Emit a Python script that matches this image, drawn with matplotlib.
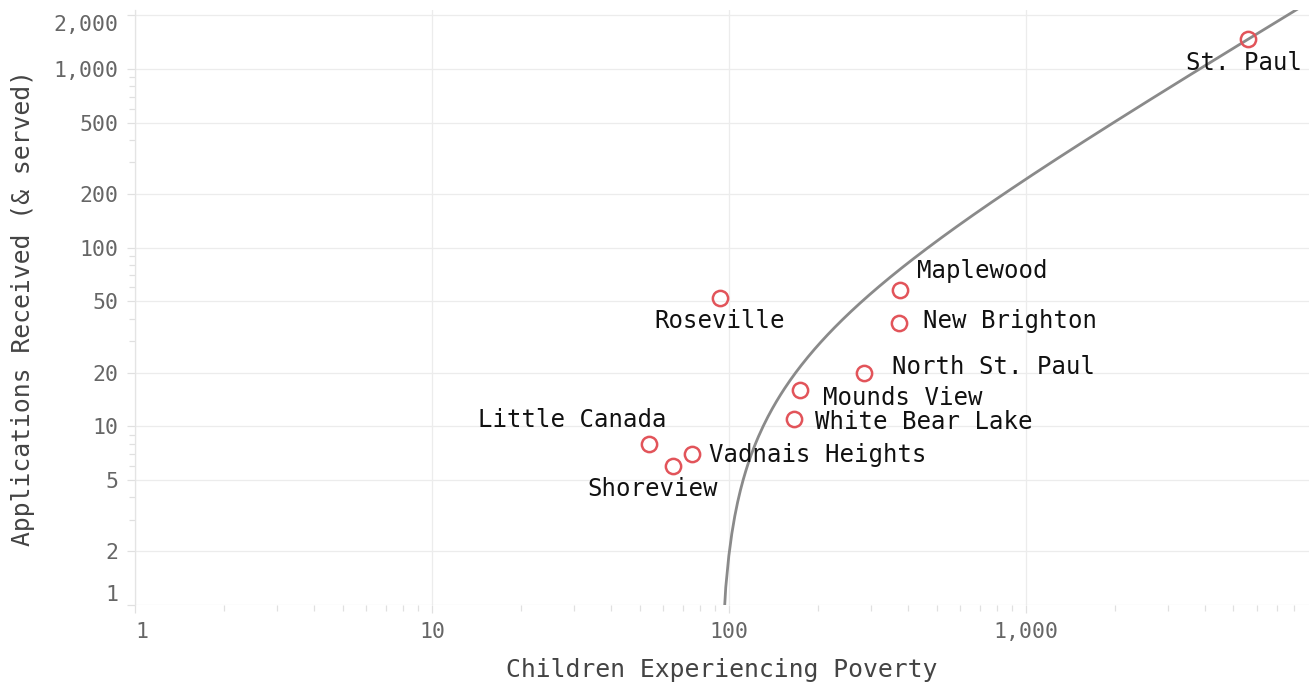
import matplotlib.pyplot as plt
from matplotlib.ticker import FixedLocator, FuncFormatter, LogLocator, NullFormatter
import numpy as np

# data
cities = ["St. Paul", "Maplewood", "New Brighton", "Roseville", "North St. Paul",
          "Mounds View", "White Bear Lake", "Little Canada", "Vadnais Heights", "Shoreview"]
poverty = [5590, 377, 374, 93, 285, 173, 166, 54, 75, 65]
applications = [1470, 58, 38, 52, 20, 16, 11, 8, 7, 6]

x_ticks = [1, 10, 100, 1000]
y_ticks = [1, 2, 5, 10, 20, 50, 100, 200, 500, 1000, 2000]

# label layout: (dx px, dy px, ha)
label_pos = {
    "St. Paul": (-4, -24, "center"),
    "Maplewood": (17, 19, "left"),
    "New Brighton": (24, 2, "left"),
    "Roseville": (0, -23, "center"),
    "North St. Paul": (28, 6, "left"),
    "Mounds View": (23, -8, "left"),
    "White Bear Lake": (21, -3, "left"),
    "Little Canada": (17, 24, "right"),
    "Vadnais Heights": (17, -1, "left"),
    "Shoreview": (-21, -23, "center"),
}

FONT = "DejaVu Sans Mono"
px = 0.72  # pixel -> points at dpi 100

fig = plt.figure(figsize=(13.09, 6.83), dpi=100)
ax = fig.add_axes([135/1309, 1 - 605/683, 1 - 135/1309, 595/683])
ax.set_xscale("log")
ax.set_yscale("log")
ax.set_xlim(1, 8980)
ax.set_ylim(1, 2140)

# linear trend fitted on raw values
a, b = np.polyfit(poverty, applications, 1)
xs = np.linspace(-b / a + 0.01, 9500, 4000)
ys = a * xs + b
ax.plot(xs, ys, color="#8a8a8a", linewidth=2.0, zorder=2)

ax.plot(poverty, applications, linestyle="none", marker="o", markersize=11,
        markerfacecolor="none", markeredgecolor="#e2545a", markeredgewidth=1.8, zorder=3)

for name, xv, yv in zip(cities, poverty, applications):
    dx, dy, ha = label_pos[name]
    ax.annotate(name, (xv, yv), xytext=(dx * px, dy * px), textcoords="offset points",
                ha=ha, va="center", fontsize=17.3, family=FONT, color="#111111", zorder=4)

ax.xaxis.set_major_locator(FixedLocator(x_ticks))
ax.yaxis.set_major_locator(FixedLocator(y_ticks))
ax.xaxis.set_minor_locator(LogLocator(base=10, subs=np.arange(2, 10)))
ax.yaxis.set_minor_locator(LogLocator(base=10, subs=[3, 4, 6, 7, 8, 9]))
ax.xaxis.set_minor_formatter(NullFormatter())
ax.yaxis.set_minor_formatter(NullFormatter())
fmt = FuncFormatter(lambda v, p: f"{int(round(v)):,}")
ax.xaxis.set_major_formatter(fmt)
ax.yaxis.set_major_formatter(fmt)

ax.grid(True, which="major", color="#ececec", linewidth=0.9)
ax.set_axisbelow(True)
for s in ["top", "right", "bottom"]:
    ax.spines[s].set_visible(False)
ax.spines["left"].set_color("#e4e4e4")
ax.spines["left"].set_linewidth(0.9)

ax.tick_params(which="major", length=6, width=0.9, color="#e0e0e0",
               labelsize=15.5, labelcolor="#666666", pad=6)
ax.tick_params(which="minor", length=4, width=0.9, color="#e0e0e0")
for lbl in ax.get_xticklabels() + ax.get_yticklabels():
    lbl.set_family(FONT)

# keep the end labels inside, like the original
xl = ax.get_xticklabels()
xl[0].set_ha("left")
yl = ax.get_yticklabels()
yl[0].set_va("bottom")
yl[-1].set_va("top")

ax.set_xlabel("Children Experiencing Poverty", fontsize=17.8, family=FONT,
              color="#444444", labelpad=12)
ax.set_ylabel("Applications Received (& served)", fontsize=17.8, family=FONT,
              color="#444444", labelpad=13)

fig.savefig("out.png", dpi=100)
